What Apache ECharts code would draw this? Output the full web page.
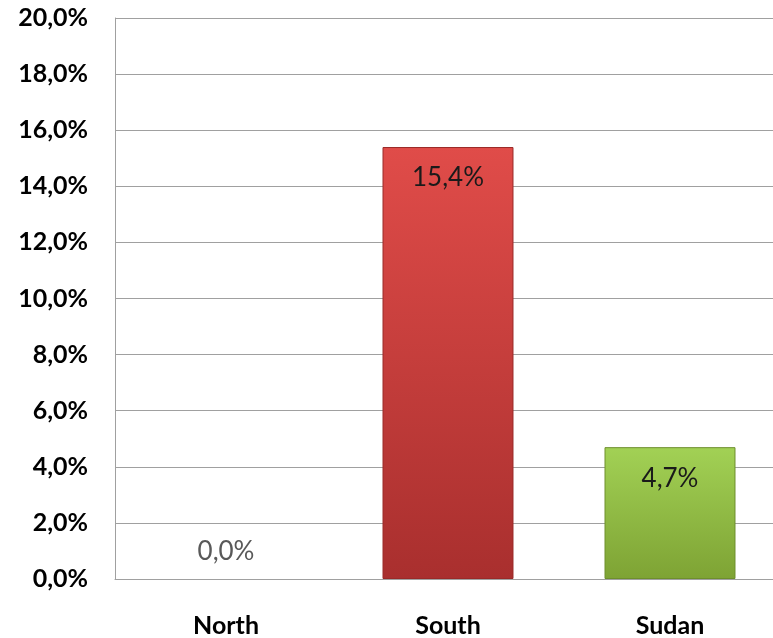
<!DOCTYPE html>
<html><head><meta charset="utf-8">
<script src="https://cdn.jsdelivr.net/npm/echarts@6/dist/echarts.min.js"></script>
<style>html,body{margin:0;padding:0;background:#fff;overflow:hidden;width:773px;height:638px}#c{width:781px;height:638px}</style>
</head><body><div id="c"></div>
<script>
const categories = ["North", "South", "Sudan"];
const values = [0.0, 15.4, 4.7];
const yTicks = [0, 2, 4, 6, 8, 10, 12, 14, 16, 18, 20];

const fmt = v => v.toFixed(1).replace('.', ',') + '%';
const FONT = 'Lato, "Open Sans", sans-serif';

const barStyles = [
  null,
  { color: new echarts.graphic.LinearGradient(0,0,0,1,[{offset:0,color:'#e04c49'},{offset:1,color:'#a92f2e'}]), borderColor:'#9a2a28', borderWidth:1 },
  { color: new echarts.graphic.LinearGradient(0,0,0,1,[{offset:0,color:'#a2d155'},{offset:1,color:'#7ea334'}]), borderColor:'#6e8f2c', borderWidth:1 }
];

const data = values.map((v, i) => {
  const d = { value: v };
  if (barStyles[i]) d.itemStyle = barStyles[i];
  if (v === 0) d.label = { position: 'top', distance: 14, color: '#595959' };
  return d;
});

const chart = echarts.init(document.getElementById('c'));
chart.setOption({
  animation: false,
  grid: { left: 115, top: 18, bottom: 59, right: 0, containLabel: false },
  xAxis: {
    type: 'category', data: categories,
    axisLine: { lineStyle: { color: '#a0a0a0' } },
    axisTick: { show: false },
    axisLabel: { color: '#000', fontFamily: FONT, fontWeight: 'bold', fontSize: 25, margin: 34 }
  },
  yAxis: {
    type: 'value', min: yTicks[0], max: yTicks[yTicks.length-1], interval: 2,
    axisLine: { show: true, lineStyle: { color: '#a0a0a0' } },
    axisTick: { show: false },
    splitLine: { lineStyle: { color: '#a0a0a0' } },
    axisLabel: { color: '#000', fontFamily: FONT, fontWeight: 'bold', fontSize: 25, margin: 27, formatter: fmt }
  },
  series: [{
    type: 'bar', data: data, barCategoryGap: '41%',
    label: { show: true, position: 'insideTop', distance: 18, color: '#1a1a1a', fontFamily: FONT, fontSize: 26, formatter: p => fmt(p.value) }
  }]
});
</script></body></html>
